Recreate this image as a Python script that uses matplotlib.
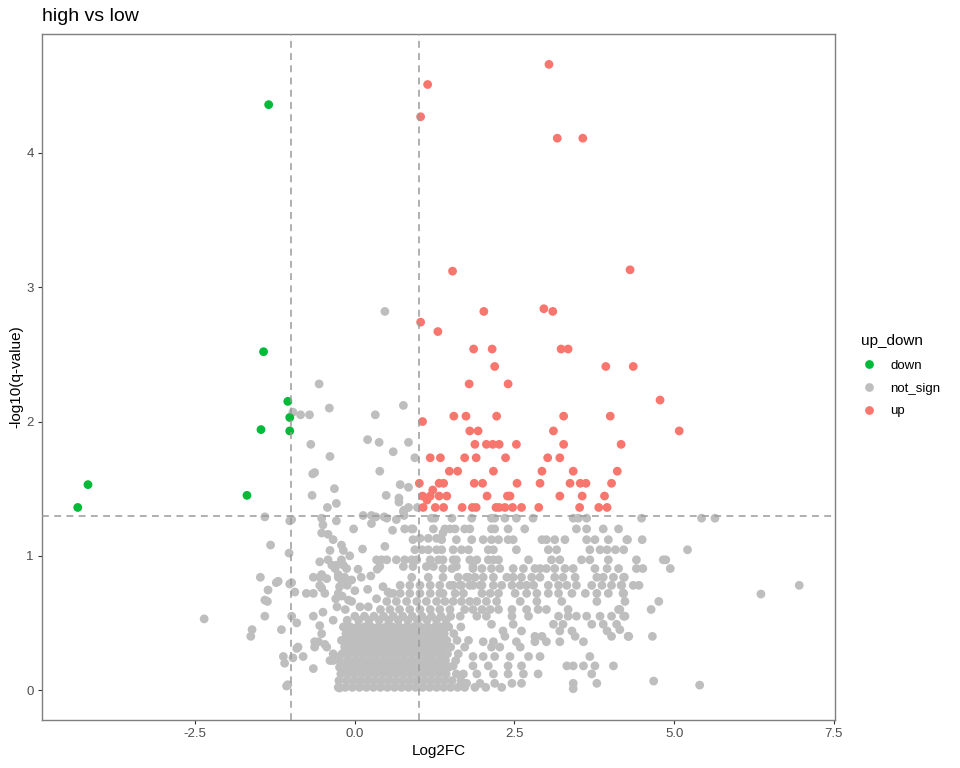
import matplotlib
matplotlib.use("Agg")
import matplotlib.pyplot as plt
from matplotlib.lines import Line2D

plt.rcParams['font.family'] = ['Liberation Sans', 'DejaVu Sans']

title = "high vs low"
x_label = "Log2FC"
y_label = "-log10(q-value)"
legend_title = "up_down"
categories = ["down", "not_sign", "up"]
colors = {"down": "#00BA38", "not_sign": "#BEBEBE", "up": "#F8766D"}
x_ticks = [-2.5, 0.0, 2.5, 5.0, 7.5]
y_ticks = [0, 1, 2, 3, 4]
fc_cut = 1.0
q_cut = 1.3

down_pts = [(-4.18, 1.53), (-4.34, 1.36), (-1.35, 4.36), (-1.43, 2.52), (-1.05, 2.15),
            (-1.02, 2.03), (-1.47, 1.94), (-1.02, 1.93), (-1.69, 1.45)]

up_pts = [(1.14, 4.51), (1.03, 4.27), (3.04, 4.66), (3.17, 4.11), (3.57, 4.11),
          (1.53, 3.12), (4.31, 3.13), (1.03, 2.74), (2.02, 2.82), (2.96, 2.84), (3.10, 2.82),
          (1.30, 2.67), (1.86, 2.54), (2.15, 2.54), (3.23, 2.54), (3.34, 2.54), (2.19, 2.41),
          (3.93, 2.41), (4.36, 2.41), (1.79, 2.28), (2.40, 2.28), (4.78, 2.16),
          (1.55, 2.04), (1.74, 2.04), (2.22, 2.04), (3.27, 2.04), (4.00, 2.04), (1.06, 2.00),
          (1.80, 1.93), (1.93, 1.93), (3.11, 1.93), (5.08, 1.93),
          (1.88, 1.83), (2.06, 1.83), (2.16, 1.83), (2.26, 1.83), (2.53, 1.83), (3.27, 1.83), (4.17, 1.83),
          (1.18, 1.73), (1.34, 1.73), (1.72, 1.73), (1.90, 1.73), (2.36, 1.73), (3.02, 1.73), (3.21, 1.73),
          (1.48, 1.63), (1.61, 1.63), (2.17, 1.63), (2.93, 1.63), (3.42, 1.63), (4.11, 1.63),
          (1.01, 1.54), (1.32, 1.54), (1.39, 1.54), (1.87, 1.54), (2.00, 1.54), (2.54, 1.54),
          (2.90, 1.54), (3.37, 1.54), (3.53, 1.54), (3.62, 1.54), (4.02, 1.54), (1.22, 1.49),
          (1.06, 1.445), (1.18, 1.445), (1.32, 1.445), (1.44, 1.445), (2.07, 1.445), (2.39, 1.445),
          (2.43, 1.445), (3.21, 1.445), (3.56, 1.445), (3.91, 1.445), (1.13, 1.415),
          (1.07, 1.36), (1.26, 1.36), (1.39, 1.36), (1.68, 1.36), (1.84, 1.36), (1.90, 1.36),
          (2.21, 1.36), (2.26, 1.36), (2.35, 1.36), (2.47, 1.36), (2.61, 1.36), (2.88, 1.36),
          (3.52, 1.36), (3.82, 1.36), (3.95, 1.36)]

# not significant points above the q threshold
grey_upper = [(0.47, 2.82), (-0.56, 2.28), (-0.97, 2.07), (-0.85, 2.05), (-0.71, 2.05), (-0.40, 2.10),
              (0.32, 2.05), (0.76, 2.12), (-0.69, 1.83), (0.20, 1.865), (0.38, 1.845), (0.84, 1.845),
              (0.60, 1.775), (-0.39, 1.74), (0.94, 1.73), (-0.66, 1.61), (-0.63, 1.62), (0.39, 1.63),
              (-0.32, 1.50), (0.71, 1.53), (0.84, 1.51), (-0.67, 1.45), (0.49, 1.45), (0.69, 1.43),
              (0.69, 1.40), (-0.29, 1.39), (-0.43, 1.36), (0.84, 1.36), (0.77, 1.34), (0.98, 1.36),
              (0.76, 1.33)]

# not significant points in the stepped band (q levels)
grey_band = [
    (-1.41, 1.29), (-1.02, 1.26), (-0.99, 1.27), (-0.52, 1.28), (-0.29, 1.26), (0.13, 1.30), (0.26, 1.30),
    (0.33, 1.29), (0.46, 1.29), (0.50, 1.28), (0.65, 1.27), (0.77, 1.30), (1.20, 1.28), (1.25, 1.28),
    (1.52, 1.28), (1.83, 1.28), (2.14, 1.28), (2.19, 1.28), (2.35, 1.28), (2.53, 1.28), (2.79, 1.28),
    (3.42, 1.28), (3.50, 1.28), (3.63, 1.28), (4.49, 1.28), (5.43, 1.28), (5.64, 1.28),
    (-0.50, 1.23), (0.26, 1.24), (-0.02, 1.20), (0.59, 1.19), (0.78, 1.20), (0.89, 1.20), (0.91, 1.20),
    (1.23, 1.20), (1.41, 1.20), (1.49, 1.20), (1.57, 1.20), (1.72, 1.20), (1.80, 1.20), (2.14, 1.20),
    (2.19, 1.20), (2.40, 1.20), (2.66, 1.20), (3.47, 1.20), (3.63, 1.20), (3.89, 1.20), (4.13, 1.20),
    (-0.52, 1.17), (-0.42, 1.16), (-0.34, 1.12), (0.91, 1.12), (1.02, 1.13), (1.15, 1.13), (1.28, 1.13),
    (1.36, 1.12), (1.38, 1.17), (1.59, 1.12), (1.83, 1.12), (2.01, 1.12), (2.14, 1.12), (2.25, 1.12),
    (2.40, 1.12), (2.48, 1.12), (2.93, 1.12), (3.00, 1.12), (3.13, 1.12), (3.29, 1.12), (3.63, 1.12),
    (3.76, 1.12), (3.97, 1.12), (4.26, 1.12), (4.27, 1.12), (4.50, 1.12),
    (-1.32, 1.08), (-1.03, 1.02), (-0.39, 1.04), (-0.21, 1.08), (-0.18, 1.04), (0.47, 1.07), (0.12, 1.05),
    (0.94, 1.045), (1.05, 1.045), (1.15, 1.045), (1.28, 1.045), (1.36, 1.045), (1.54, 1.045),
    (1.67, 1.045), (1.78, 1.045), (2.09, 1.045), (2.17, 1.045), (2.53, 1.045), (3.03, 1.045),
    (3.16, 1.045), (3.68, 1.045), (3.84, 1.045), (3.95, 1.045), (4.08, 1.045), (4.21, 1.045), (5.21, 1.045),
    (-0.55, 0.955), (-0.42, 0.97), (-0.36, 0.93), (-0.29, 0.93), (-0.18, 0.93), (-0.21, 0.97),
    (-0.08, 1.00), (0.34, 0.97), (0.39, 0.92), (0.42, 0.97), (0.50, 0.97), (0.65, 0.97), (0.76, 0.92),
    (0.78, 0.97), (0.89, 0.97), (0.91, 0.92), (0.97, 0.97), (1.12, 0.92), (1.18, 0.97), (1.23, 0.92),
    (1.31, 0.97), (1.38, 0.97), (1.54, 0.97), (1.59, 0.97), (1.80, 0.97), (1.91, 0.97), (2.09, 0.97),
    (2.17, 0.97), (2.25, 0.97), (2.72, 0.97), (3.08, 0.97), (3.21, 0.97), (3.55, 0.97), (3.68, 0.97),
    (3.97, 0.97), (4.41, 0.97), (4.83, 0.97), (4.87, 0.97),
    (-0.31, 0.905), (-0.13, 0.905), (0.05, 0.90), (0.35, 0.90), (1.38, 0.905), (1.52, 0.905),
    (1.59, 0.92), (1.85, 0.92), (1.85, 0.905), (1.99, 0.905), (2.14, 0.905), (2.27, 0.905), (2.48, 0.905),
    (2.64, 0.905), (2.82, 0.905), (2.90, 0.905), (3.00, 0.905), (3.13, 0.905), (3.29, 0.905),
    (3.42, 0.905), (3.76, 0.905), (3.95, 0.905), (4.13, 0.905), (4.41, 0.905), (4.51, 0.905), (4.94, 0.905),
    (-1.48, 0.84), (-0.65, 0.84), (-0.55, 0.84), (-0.44, 0.83), (-0.26, 0.84), (-0.16, 0.84), (0.10, 0.84),
    (-0.26, 0.86), (-0.52, 0.86), (-0.05, 0.82), (0.25, 0.85), (0.89, 0.84), (1.15, 0.84), (1.38, 0.84),
    (1.62, 0.84), (1.75, 0.84), (1.78, 0.84), (1.88, 0.84), (2.01, 0.84), (2.17, 0.84), (2.38, 0.84),
    (2.48, 0.84), (2.61, 0.84), (2.77, 0.84), (2.90, 0.84), (3.13, 0.84), (3.26, 0.84), (3.45, 0.84),
    (3.79, 0.84), (3.89, 0.84), (4.05, 0.84), (4.21, 0.84), (4.22, 0.84),
    (-1.23, 0.80), (-0.99, 0.80), (-1.02, 0.79), (-1.20, 0.81), (-0.55, 0.78), (-0.24, 0.77),
    (-0.21, 0.82), (-0.12, 0.78), (0.44, 0.77), (0.71, 0.78), (0.86, 0.78), (1.02, 0.78), (1.18, 0.78),
    (1.33, 0.78), (1.49, 0.78), (1.54, 0.78), (1.65, 0.78), (1.67, 0.78), (1.80, 0.78), (1.85, 0.78),
    (1.96, 0.78), (1.99, 0.78), (2.17, 0.78), (2.30, 0.78), (2.46, 0.78), (2.59, 0.78), (2.69, 0.78),
    (2.80, 0.78), (3.03, 0.78), (3.19, 0.78), (3.32, 0.78), (3.47, 0.78), (3.71, 0.78), (3.87, 0.78),
    (4.02, 0.78), (4.17, 0.78), (4.18, 0.78), (4.36, 0.78), (4.45, 0.78), (6.96, 0.78),
    (-1.36, 0.745), (-0.94, 0.73), (-0.76, 0.72), (-0.65, 0.72), (-0.52, 0.76), (-0.47, 0.72),
    (-0.26, 0.72), (-0.20, 0.70), (0.00, 0.74), (0.20, 0.75), (0.52, 0.73), (0.55, 0.72), (0.60, 0.72),
    (0.71, 0.72), (0.86, 0.72), (1.02, 0.72), (1.18, 0.72), (1.33, 0.72), (1.38, 0.72), (1.57, 0.72),
    (1.70, 0.72), (1.99, 0.72), (2.12, 0.72), (2.25, 0.72), (2.51, 0.72), (2.69, 0.72), (2.85, 0.72),
    (3.03, 0.72), (3.19, 0.72), (3.40, 0.72), (3.61, 0.72), (3.79, 0.72), (3.97, 0.72), (4.20, 0.72),
    (4.21, 0.72), (6.36, 0.715),
    (-1.41, 0.67), (-1.37, 0.66), (-0.30, 0.68), (-0.10, 0.67), (-0.05, 0.66), (0.34, 0.68), (0.50, 0.66),
    (0.65, 0.66), (0.81, 0.66), (0.97, 0.66), (1.12, 0.66), (1.28, 0.66), (1.41, 0.66), (1.54, 0.66),
    (1.67, 0.66), (1.80, 0.66), (1.91, 0.66), (2.06, 0.66), (2.22, 0.66), (2.59, 0.66), (2.85, 0.66),
    (3.24, 0.66), (3.79, 0.66), (4.23, 0.66), (4.76, 0.66),
    (-0.50, 0.58), (-0.28, 0.62), (-0.15, 0.60), (0.08, 0.62), (0.21, 0.62), (0.40, 0.60), (0.55, 0.60),
    (0.70, 0.60), (0.86, 0.60), (1.02, 0.60), (1.18, 0.60), (1.33, 0.60), (1.49, 0.60), (1.72, 0.60),
    (1.85, 0.60), (1.99, 0.60), (2.12, 0.60), (2.25, 0.60), (2.46, 0.60), (2.69, 0.60), (2.87, 0.60),
    (3.00, 0.60), (3.34, 0.60), (4.13, 0.60), (4.15, 0.60), (4.64, 0.60),
    (-2.36, 0.53), (-1.41, 0.55), (-0.99, 0.55), (-0.91, 0.50), (-0.65, 0.55), (-0.55, 0.48),
    (-0.34, 0.52), (0.00, 0.55), (0.15, 0.55), (0.30, 0.55), (0.45, 0.55), (0.60, 0.55), (0.75, 0.55),
    (0.90, 0.55), (1.05, 0.55), (1.20, 0.55), (1.35, 0.55), (1.50, 0.55), (1.65, 0.55), (1.91, 0.55),
    (2.06, 0.55), (2.46, 0.55), (2.72, 0.55), (3.19, 0.55), (3.34, 0.55), (3.47, 0.55), (3.63, 0.55),
    (3.84, 0.55), (4.02, 0.55), (4.21, 0.55), (4.23, 0.55),
    (2.14, 0.49), (2.48, 0.49), (3.11, 0.49), (3.26, 0.49), (3.71, 0.49), (3.89, 0.49), (4.10, 0.49),
    (-1.15, 0.45), (-1.61, 0.45), (-1.63, 0.40), (-0.52, 0.42), (2.32, 0.44), (2.61, 0.44), (3.21, 0.44),
    (3.40, 0.44), (3.95, 0.44), (4.15, 0.45),
    (2.35, 0.40), (2.82, 0.40), (2.93, 0.40), (3.45, 0.40), (4.02, 0.40), (4.28, 0.40), (4.29, 0.40),
    (4.66, 0.40),
    (-0.63, 0.36), (-0.57, 0.36), (-0.47, 0.34), (2.01, 0.36), (2.17, 0.36), (2.53, 0.36), (2.82, 0.36),
    (3.00, 0.36), (3.21, 0.36), (3.58, 0.36),
    (-0.91, 0.31), (-0.89, 0.32), (-0.63, 0.32), (-0.44, 0.32), (1.72, 0.32), (2.14, 0.32), (2.27, 0.32),
    (2.59, 0.32),
    (-1.12, 0.25), (-1.10, 0.20), (-0.97, 0.24), (-0.81, 0.25), (-0.34, 0.27), (-0.34, 0.22),
    (-0.31, 0.25), (-0.39, 0.22), (1.85, 0.25), (2.01, 0.25), (2.19, 0.25), (2.43, 0.25), (2.72, 0.25),
    (2.90, 0.25), (3.68, 0.25),
    (-0.65, 0.16), (-0.24, 0.17), (1.54, 0.18), (1.85, 0.18), (2.09, 0.18), (2.40, 0.18), (2.61, 0.18),
    (3.32, 0.18), (3.42, 0.18), (3.58, 0.18), (3.76, 0.18), (4.05, 0.18),
    (1.59, 0.12), (1.91, 0.12), (2.17, 0.12), (2.40, 0.12), (2.64, 0.12), (2.87, 0.12), (3.71, 0.12),
    (-1.05, 0.04), (-1.07, 0.03), (1.75, 0.05), (1.96, 0.05), (2.19, 0.05), (2.46, 0.05), (2.61, 0.05),
    (3.42, 0.05), (3.79, 0.05), (4.68, 0.067), (5.40, 0.037),
    (-0.24, 0.015), (3.42, 0.01)]

# dense not significant cloud near zero fold change
grey_blob = [
    (-0.26, 0.02), (-0.15, 0.02), (-0.04, 0.02), (0.07, 0.02), (0.18, 0.02), (0.29, 0.02), (0.40, 0.02),
    (0.51, 0.02), (0.62, 0.02), (0.73, 0.02), (0.84, 0.02), (0.95, 0.02), (1.06, 0.02), (1.17, 0.02),
    (1.28, 0.02), (1.39, 0.02), (1.50, 0.02), (1.61, 0.02), (1.72, 0.02), (1.88, 0.02), (2.05, 0.02),
    (2.30, 0.02),
    (-0.25, 0.07), (-0.13, 0.07), (-0.02, 0.07), (0.09, 0.07), (0.20, 0.07), (0.31, 0.07), (0.42, 0.07),
    (0.53, 0.07), (0.64, 0.07), (0.75, 0.07), (0.86, 0.07), (0.97, 0.07), (1.08, 0.07), (1.19, 0.07),
    (1.30, 0.07), (1.41, 0.07), (1.52, 0.07), (1.66, 0.07),
    (-0.22, 0.12), (-0.11, 0.12), (0.00, 0.12), (0.11, 0.12), (0.22, 0.12), (0.33, 0.12), (0.44, 0.12),
    (0.55, 0.12), (0.66, 0.12), (0.77, 0.12), (0.88, 0.12), (0.99, 0.12), (1.10, 0.12), (1.21, 0.12),
    (1.32, 0.12), (1.43, 0.12), (1.70, 0.12),
    (-0.18, 0.17), (-0.07, 0.17), (0.04, 0.17), (0.15, 0.17), (0.26, 0.17), (0.37, 0.17), (0.48, 0.17),
    (0.59, 0.17), (0.70, 0.17), (0.81, 0.17), (0.92, 0.17), (1.03, 0.17), (1.14, 0.17), (1.25, 0.17),
    (1.36, 0.17), (1.47, 0.17),
    (-0.24, 0.22), (-0.12, 0.22), (-0.01, 0.22), (0.10, 0.22), (0.21, 0.22), (0.32, 0.22), (0.43, 0.22),
    (0.54, 0.22), (0.65, 0.22), (0.76, 0.22), (0.87, 0.22), (0.98, 0.22), (1.09, 0.22), (1.20, 0.22),
    (1.31, 0.22), (1.42, 0.22), (1.58, 0.22),
    (-0.20, 0.27), (-0.09, 0.27), (0.02, 0.27), (0.13, 0.27), (0.24, 0.27), (0.35, 0.27), (0.46, 0.27),
    (0.57, 0.27), (0.68, 0.27), (0.79, 0.27), (0.90, 0.27), (1.01, 0.27), (1.12, 0.27), (1.23, 0.27),
    (1.34, 0.27), (1.45, 0.27), (1.62, 0.27),
    (-0.16, 0.32), (-0.05, 0.32), (0.06, 0.32), (0.17, 0.32), (0.28, 0.32), (0.39, 0.32), (0.50, 0.32),
    (0.61, 0.32), (0.72, 0.32), (0.83, 0.32), (0.94, 0.32), (1.05, 0.32), (1.16, 0.32), (1.27, 0.32),
    (1.38, 0.32), (1.50, 0.32),
    (-0.21, 0.37), (-0.10, 0.37), (0.01, 0.37), (0.12, 0.37), (0.23, 0.37), (0.34, 0.37), (0.45, 0.37),
    (0.56, 0.37), (0.67, 0.37), (0.78, 0.37), (0.89, 0.37), (1.00, 0.37), (1.11, 0.37), (1.22, 0.37),
    (1.33, 0.37), (1.44, 0.37), (1.60, 0.37), (1.78, 0.37),
    (-0.14, 0.42), (-0.03, 0.42), (0.08, 0.42), (0.19, 0.42), (0.30, 0.42), (0.41, 0.42), (0.52, 0.42),
    (0.63, 0.42), (0.74, 0.42), (0.85, 0.42), (0.96, 0.42), (1.07, 0.42), (1.18, 0.42), (1.29, 0.42),
    (1.40, 0.42), (1.55, 0.42),
    (-0.18, 0.47), (-0.07, 0.47), (0.04, 0.47), (0.15, 0.47), (0.26, 0.47), (0.37, 0.47), (0.48, 0.47),
    (0.59, 0.47), (0.70, 0.47), (0.81, 0.47), (0.92, 0.47), (1.03, 0.47), (1.14, 0.47), (1.25, 0.47),
    (1.36, 0.47), (1.47, 0.47), (1.66, 0.47),
    (-0.12, 0.52), (0.06, 0.52), (0.22, 0.52), (0.38, 0.52), (0.53, 0.52), (0.68, 0.52), (0.83, 0.52),
    (0.98, 0.52), (1.13, 0.52), (1.28, 0.52), (1.43, 0.52)]

grey_pts = grey_upper + grey_band + grey_blob

fig = plt.figure(figsize=(9.6, 7.68), dpi=100)
ax = fig.add_axes([0.04375, 0.0625, 0.82605, 0.8932])

msize = 40
for name, pts in [("not_sign", grey_pts), ("down", down_pts), ("up", up_pts)]:
    xs = [p[0] for p in pts]
    ys = [p[1] for p in pts]
    ax.scatter(xs, ys, s=msize, c=colors[name], edgecolors='none', zorder=2)

dash_kw = dict(color='#9a9a9a', linestyle=(0, (4.5, 3.5)), linewidth=1.1, zorder=3)
ax.axvline(-fc_cut, **dash_kw)
ax.axvline(fc_cut, **dash_kw)
ax.axhline(q_cut, **dash_kw)

ax.set_xlim(-4.9, 7.52)
ax.set_ylim(-0.223, 4.886)
ax.set_xticks(x_ticks)
ax.set_xticklabels([f"{t:.1f}" for t in x_ticks])
ax.set_yticks(y_ticks)
ax.set_yticklabels([str(t) for t in y_ticks])
ax.tick_params(axis='both', direction='out', length=3, width=0.8, color='#333333',
               labelsize=9.5, labelcolor='#4d4d4d', pad=3)
for sp in ax.spines.values():
    sp.set_color('#7f7f7f')
    sp.set_linewidth(1.0)

ax.set_xlabel(x_label, fontsize=11, color='black', labelpad=3)
ax.set_ylabel(y_label, fontsize=11, color='black', labelpad=2)
fig.text(0.04375, 0.978, title, fontsize=14, color='black', ha='left', va='center')

handles = [Line2D([0], [0], marker='o', linestyle='none', markersize=6.3,
                  markerfacecolor=colors[c], markeredgecolor='none') for c in categories]
leg = fig.legend(handles, categories, title=legend_title, loc='upper left',
                 bbox_to_anchor=(0.885, 0.58), frameon=False, fontsize=9.5,
                 title_fontsize=11, handlelength=1.2, handletextpad=1.0, labelspacing=0.8,
                 alignment='left')
leg._legend_box.sep = 8

fig.savefig("out.png", dpi=100)
